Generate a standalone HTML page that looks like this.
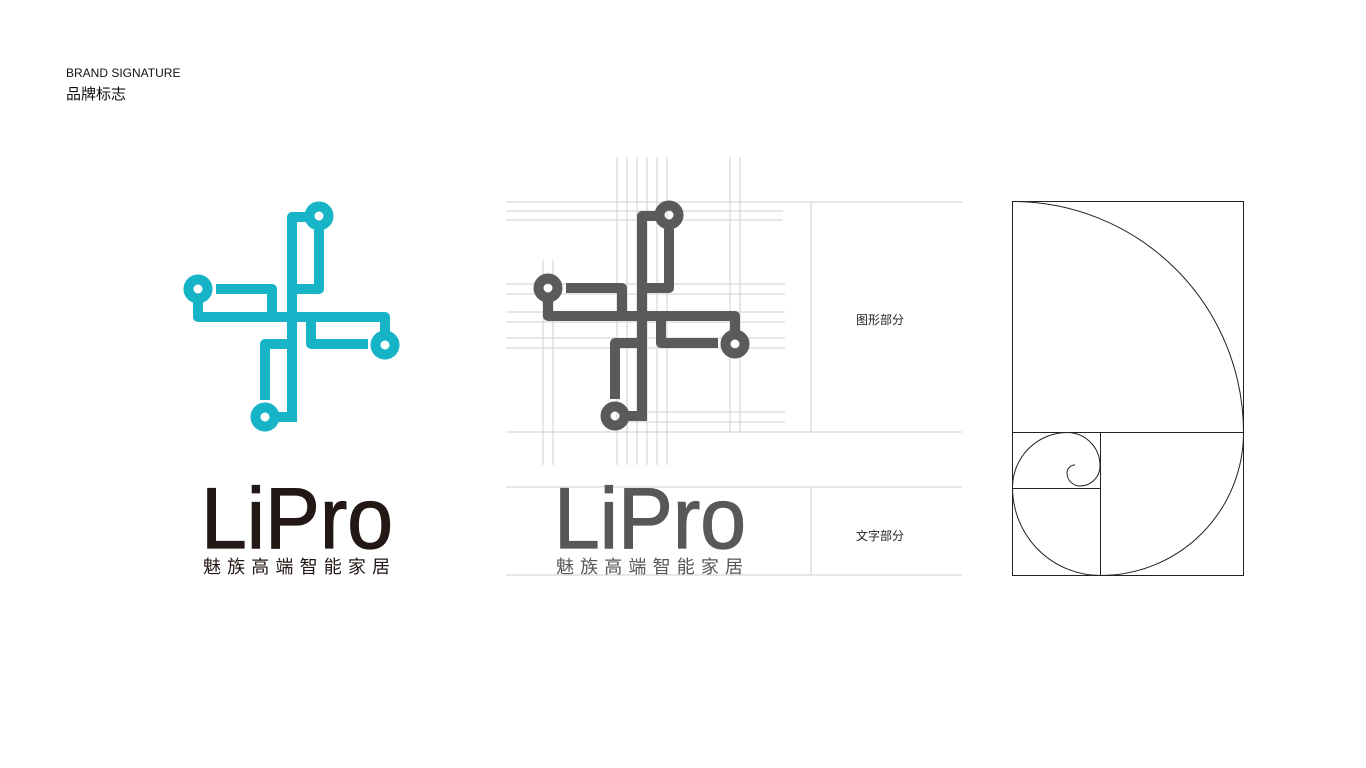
<!DOCTYPE html>
<html><head><meta charset="utf-8"><style>
html,body{margin:0;padding:0;background:#fff;}
body{width:1366px;height:768px;overflow:hidden;position:relative;}
</style></head><body>
<svg width="1366" height="768" viewBox="0 0 1366 768" xmlns="http://www.w3.org/2000/svg" style="position:absolute;left:0;top:0">
<defs>
<g id="logo" fill="none" stroke-width="10" stroke-linecap="butt" stroke-linejoin="round">
  <path d="M319 230 V289 H292"/>
  <path d="M292 422 V217 H312"/>
  <path d="M216 289 H272 V317"/>
  <path d="M198 300 V317 H385 V333"/>
  <path d="M311 317 V344 H368"/>
  <path d="M292 344 H265 V400"/>
  <path d="M292 417 H278"/>
  <circle cx="319" cy="216" r="9.5"/>
  <circle cx="198" cy="289" r="9.5"/>
  <circle cx="385" cy="345" r="9.5"/>
  <circle cx="265" cy="417" r="9.5"/>
</g>
</defs>
<text x="66" y="77" font-family="Liberation Sans, sans-serif" font-size="12" fill="#111">BRAND SIGNATURE</text>
<text x="66" y="99" font-family="Liberation Sans, 'Noto Sans CJK SC', sans-serif" font-size="15" fill="#111">品牌标志</text>

<use href="#logo" stroke="#17b3c7"/>

<!-- grid lines -->
<g stroke="#cfcfcf" stroke-width="1">
  <line x1="617" y1="157" x2="617" y2="465"/><line x1="627" y1="157" x2="627" y2="465"/>
  <line x1="637" y1="157" x2="637" y2="465"/><line x1="647" y1="157" x2="647" y2="465"/>
  <line x1="657" y1="157" x2="657" y2="465"/><line x1="667" y1="157" x2="667" y2="465"/>
  <line x1="543" y1="260" x2="543" y2="465"/><line x1="553" y1="260" x2="553" y2="465"/>
  <line x1="730" y1="157" x2="730" y2="432"/><line x1="740" y1="157" x2="740" y2="432"/>
  <line x1="506" y1="202" x2="962" y2="202"/>
  <line x1="506" y1="211" x2="783" y2="211"/><line x1="506" y1="220" x2="783" y2="220"/>
  <line x1="506" y1="284" x2="785" y2="284"/><line x1="506" y1="294" x2="785" y2="294"/>
  <line x1="506" y1="312" x2="785" y2="312"/><line x1="506" y1="322" x2="785" y2="322"/>
  <line x1="506" y1="338" x2="785" y2="338"/><line x1="506" y1="348" x2="785" y2="348"/>
  <line x1="620" y1="412" x2="785" y2="412"/><line x1="620" y1="422" x2="785" y2="422"/>
  <line x1="506" y1="432" x2="962" y2="432"/>
  <line x1="811" y1="202" x2="811" y2="432"/>
  <line x1="506" y1="487" x2="962" y2="487"/><line x1="506" y1="575" x2="962" y2="575"/>
  <line x1="811" y1="487" x2="811" y2="575"/>
</g>
<g transform="translate(350,-1)"><use href="#logo" stroke="#5a5a5a"/></g>

<text x="880" y="324" text-anchor="middle" font-family="Liberation Sans, 'Noto Sans CJK SC', sans-serif" font-size="12" fill="#222">图形部分</text>
<text x="880" y="540" text-anchor="middle" font-family="Liberation Sans, 'Noto Sans CJK SC', sans-serif" font-size="12" fill="#222">文字部分</text>

<text x="201" y="548" textLength="192" lengthAdjust="spacingAndGlyphs" font-family="Liberation Sans, sans-serif" font-size="86" fill="#231815" stroke="#231815" stroke-width="1.2">LiPro</text>
<text x="203" y="573" textLength="187" lengthAdjust="spacing" font-family="Liberation Sans, 'Noto Sans CJK SC', sans-serif" font-size="18" fill="#231815">魅族高端智能家居</text>
<text x="554" y="548" textLength="192" lengthAdjust="spacingAndGlyphs" font-family="Liberation Sans, sans-serif" font-size="86" fill="#595757" stroke="#595757" stroke-width="1.2">LiPro</text>
<text x="556" y="573" textLength="187" lengthAdjust="spacing" font-family="Liberation Sans, 'Noto Sans CJK SC', sans-serif" font-size="18" fill="#595757">魅族高端智能家居</text>

<!-- golden rectangle -->
<g fill="none" stroke="#222" stroke-width="1">
  <rect x="1012.5" y="201.5" width="231" height="374"/>
  <line x1="1012" y1="432.5" x2="1243" y2="432.5"/>
  <line x1="1100.5" y1="432" x2="1100.5" y2="575"/>
  <line x1="1012" y1="488.5" x2="1100" y2="488.5"/>
  <path d="M1012.5 201.5 A231 231 0 0 1 1243.5 432.5 A143 143 0 0 1 1100.5 575.5 A88 88 0 0 1 1012.5 487.5 A55 55 0 0 1 1067 432.5 A33 33 0 0 1 1100 465.5 A20 20 0 0 1 1080 486 A13 13 0 0 1 1067 473 A8 8 0 0 1 1075 465"/>
</g>
</svg>
</body></html>
